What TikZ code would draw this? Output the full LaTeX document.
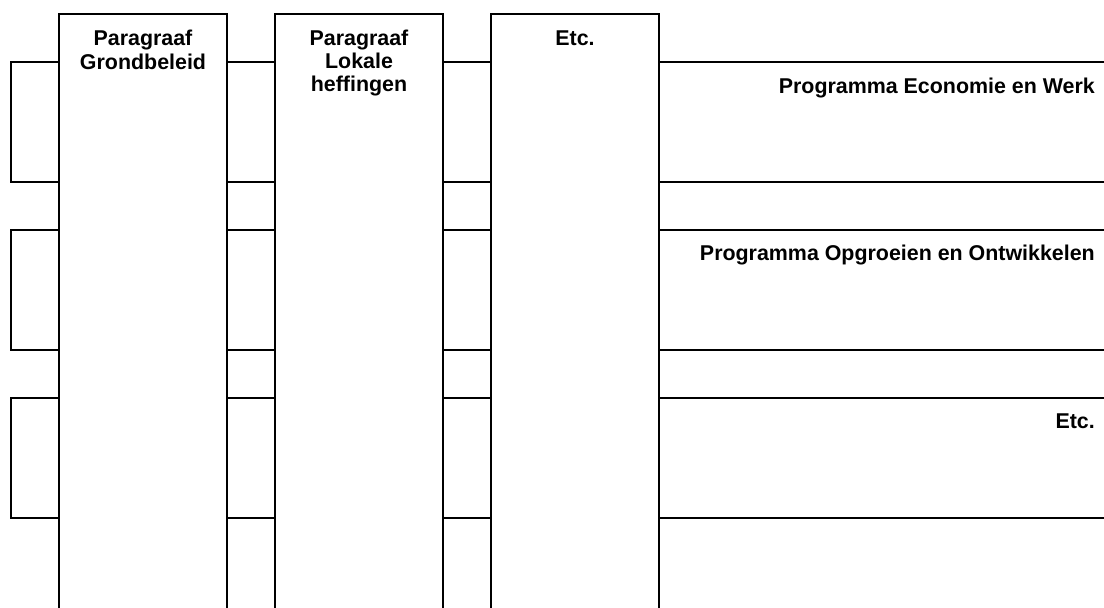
\documentclass[tikz,border=0pt]{standalone}
\usepackage{fontspec}
\setmainfont{Liberation Sans}
\begin{document}
\begin{tikzpicture}[x=1pt,y=-1pt,
  ln/.style={line width=1.6pt,black},
  colbox/.style={ln,fill=white},
  lbl/.style={font=\fontsize{21.4}{24}\selectfont\bfseries,inner sep=0pt,anchor=base},
  rlbl/.style={font=\fontsize{21.4}{24}\selectfont\bfseries,inner sep=0pt,anchor=base east}]
\useasboundingbox (0,0) rectangle (1104,608);
\clip (0,0) rectangle (1104,608);
\fill[white] (0,0) rectangle (1104,608);
% bands (programmes)
\foreach \t/\b in {62/182,230/350,398/518}{
  \draw[ln] (1112,\t) -- (11,\t) -- (11,\b) -- (1112,\b);
}
% columns (paragraphs)
\foreach \l/\r in {59/227,275/443,491/659}{
  \filldraw[colbox] (\l,616) -- (\l,14) -- (\r,14) -- (\r,616);
}
% column labels
\node[lbl] (p1a) at (143,45) {Paragraaf};
\node[lbl] (p1b) at (143,69.5) {Grondbeleid};
\node[lbl] (p2a) at (359,45) {Paragraaf};
\node[lbl] (p2b) at (359,68) {Lokale};
\node[lbl] (p2c) at (359,91.5) {heffingen};
\node[lbl] (p3a) at (575,45) {Etc.};
% band labels
\node[rlbl] (r1) at (1095,93) {Programma Economie en Werk};
\node[rlbl] (r2) at (1095,260) {Programma Opgroeien en Ontwikkelen};
\node[rlbl] (r3) at (1095,428) {Etc.};
\end{tikzpicture}
\end{document}
